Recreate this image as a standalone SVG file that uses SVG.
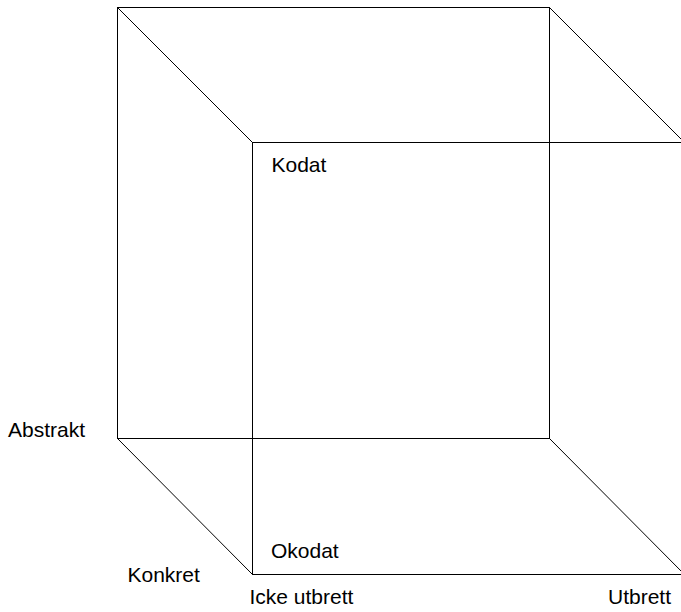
<svg xmlns="http://www.w3.org/2000/svg" width="681" height="612" viewBox="0 0 681 612">
<style>
.e{stroke:#000;stroke-width:1;fill:none}
text{font-family:"Liberation Sans",Arial,sans-serif;font-size:21px;fill:#000}
</style>
<rect width="681" height="612" fill="#fff"/>
<g id="connectors">
<rect class="e" x="117.5" y="7.5" width="432" height="431"/>
<rect class="e" x="252.5" y="142.5" width="432" height="432"/>
<line class="e" x1="117.5" y1="7.5" x2="252.5" y2="142.5"/>
<line class="e" x1="549.5" y1="7.5" x2="684.5" y2="142.5"/>
<line class="e" x1="117.5" y1="438.5" x2="252.5" y2="574.5"/>
<line class="e" x1="549.5" y1="438.5" x2="684.5" y2="574.5"/>
</g>
<g id="kodat"><text x="271.5" y="172">Kodat</text></g>
<g id="okodat"><text x="271" y="558">Okodat</text></g>
<g id="abstrakt"><text x="8" y="437">Abstrakt</text></g>
<g id="konkret"><text x="127.5" y="582">Konkret</text></g>
<g id="icke-utbrett"><text x="249.5" y="604">Icke utbrett</text></g>
<g id="utbrett"><text x="608" y="604">Utbrett</text></g>
</svg>
